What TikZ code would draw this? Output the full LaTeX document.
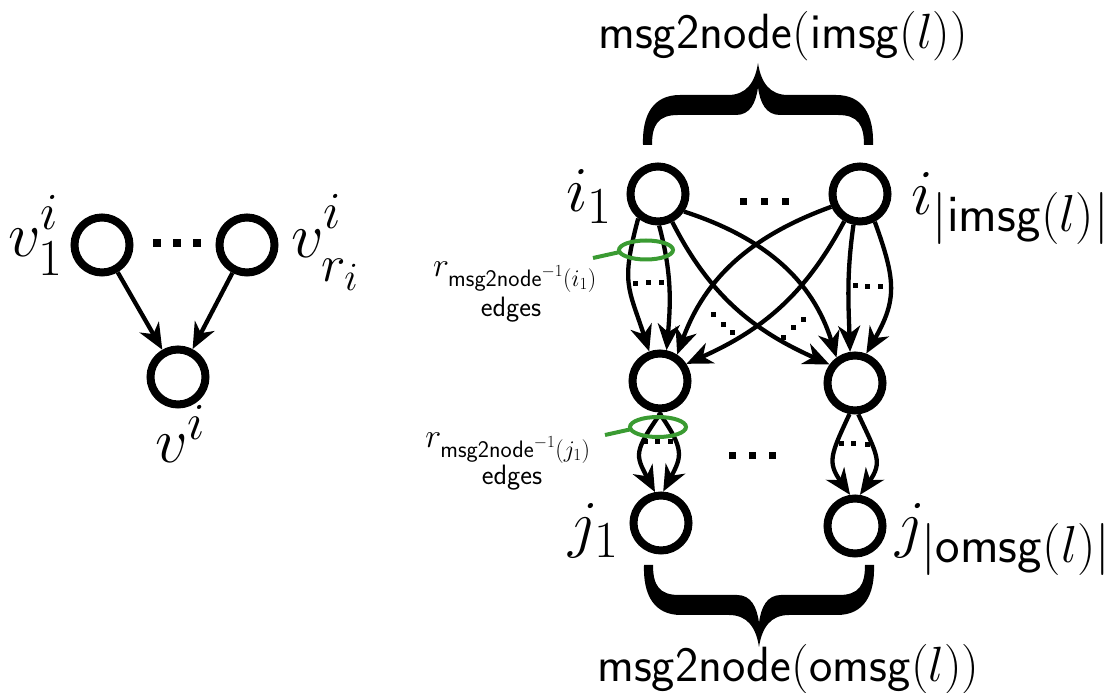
\RequirePackage{fix-cm}
\documentclass[tikz,border=0pt]{standalone}
\usetikzlibrary{arrows.meta}
\DeclareMathSizes{64}{64}{52}{40}
\definecolor{loopgreen}{RGB}{58,155,50}
\tikzset{
  vtx/.style={circle, draw, line width=8pt, minimum size=55pt, inner sep=0pt},
  arr/.style={draw, line width=4.3pt, -{Stealth[length=26pt,width=22pt,inset=8pt]}},
  biglab/.style={inner sep=0pt, font=\fontsize{64}{70}\selectfont},
  toplab/.style={inner sep=0pt, font=\fontsize{49.5}{54}\selectfont},
  rlab/.style={inner sep=0pt, font=\fontsize{34}{40}\selectfont},
  edgelab/.style={inner sep=0pt, font=\fontsize{28}{32}\selectfont\sffamily},
  greenloop/.style={draw=loopgreen, line width=4pt},
}
\newcommand\sqdot[3]{\fill (#1-#3/2,#2-#3/2) rectangle ++(#3,#3);}
\begin{document}
\begin{tikzpicture}[x=1pt,y=1pt]
\useasboundingbox (0,0) rectangle (1114,693);

% left graph
\node[vtx] (v1) at (102,448) {};
\node[vtx] (vr) at (247,448) {};
\node[vtx] (vv) at (178,316) {};
\node[biglab, anchor=base west] (lv1) at (8,436) {$v^{\raisebox{4pt}{$\scriptstyle i$}}_{\raisebox{-3pt}{$\scriptstyle 1$}}$};
\node[biglab, anchor=base west] (lvr) at (291,435) {$v^{\raisebox{6pt}{$\scriptstyle i$}}_{\raisebox{-8pt}{$\scriptstyle r_i$}}$};
\node[biglab, anchor=base west] (lvv) at (155,230) {$v^i$};
\draw[arr] (v1) -- (vv);
\draw[arr] (vr) -- (vv);
\sqdot{157}{450}{8}\sqdot{177}{450}{8}\sqdot{197}{450}{8}

% right graph
\node[vtx] (i1) at (658,499) {};
\node[vtx] (ik) at (860,499) {};
\node[vtx] (m1) at (660,312) {};
\node[vtx] (m2) at (855,310) {};
\node[vtx] (j1) at (661,170) {};
\node[vtx] (jk) at (855,167) {};

\node[biglab, anchor=base west] (li1) at (566,481) {$i_1$};
\node[biglab, anchor=base west] (lik) at (911,478) {$i_{|\mathsf{imsg}(l)|}$};
\node[biglab, anchor=base east] (lj1) at (619,147) {$j_1$};
\node[biglab, anchor=base west] (ljk) at (895,147) {$j_{|\mathsf{omsg}(l)|}$};

\draw[arr] (i1.231) to[out=-105,in=108,looseness=1.3] (m1.110);
\draw[arr] (i1.272) to[out=-75,in=85] (m1.78);
\draw[arr] (ik.258) to[out=-98,in=92] (m2.99);
\draw[arr] (ik.298) to[out=-70,in=60,looseness=1.2] (m2.69);
\draw[arr] (i1.-34) to[out=-18,in=107] (m2.126);
\draw[arr] (i1.-63) to[out=-63,in=156] (m2.144);
\draw[arr] (ik.204) to[out=200,in=70] (m1.57);
\draw[arr] (ik.240) to[out=242,in=24] (m1.33);
\draw[arr] (m1.-88) .. controls +(-125:48) and +(118:42) .. (j1.101);
\draw[arr] (m1.-92) .. controls +(-55:45) and +(62:40) .. (j1.86);
\draw[arr] (m2.-100) .. controls +(-115:45) and +(125:40) .. (jk.99);
\draw[arr] (m2.-84) .. controls +(-65:45) and +(55:40) .. (jk.81);

% small dots inside edge bundles
\sqdot{635}{409}{5}\sqdot{648}{410}{5}\sqdot{661}{410}{5}
\sqdot{855}{407}{5}\sqdot{867}{406}{5}\sqdot{880}{406}{5}
\sqdot{713}{378}{5}\sqdot{723}{368}{5}\sqdot{732}{360}{5}
\sqdot{783}{355}{5}\sqdot{793}{365}{5}\sqdot{803}{373}{5}
\sqdot{645}{251}{5}\sqdot{657}{251}{5}\sqdot{670}{251}{5}
\sqdot{841}{249}{5}\sqdot{853}{249}{5}\sqdot{867}{248}{5}

% big dots
\sqdot{743}{491}{7}\sqdot{764}{491}{7}\sqdot{785}{491}{7}
\sqdot{732}{237}{7}\sqdot{752}{237}{7}\sqdot{772}{237}{7}

% green loops
\draw[greenloop] (646,443) ellipse [x radius=27, y radius=9.5];
\coordinate (t1a) at (593,435);
\coordinate (t1b) at (620,441);
\draw[greenloop] (t1a) -- (t1b);
\draw[greenloop] (658,266) ellipse [x radius=28, y radius=10];
\coordinate (t2a) at (605,258);
\coordinate (t2b) at (632,264);
\draw[greenloop] (t2a) -- (t2b);

% edge labels
\node[rlab, anchor=base] (r1) at (515,416) {$r_{\mathsf{msg2node}^{-1}(i_1)}$};
\node[edgelab, anchor=base] (e1) at (511,376) {edges};
\node[rlab, anchor=base] (r2) at (508,245) {$r_{\mathsf{msg2node}^{-1}(j_1)}$};
\node[edgelab, anchor=base] (e2) at (512,208) {edges};

% braces
\begin{scope}[shift={(758,548)}]
\fill (-115,0) .. controls (-116,30) and (-105,50) .. (-78,50) -- (-30,50) .. controls (-12,50) and (-3,62) .. (0,82) .. controls (3,62) and (12,50) .. (30,50) -- (78,50) .. controls (105,50) and (116,30) .. (115,0) -- (106,0) .. controls (106,20) and (100,30) .. (80,30) -- (22,30) .. controls (8,30) and (2,42) .. (0,58) .. controls (-2,42) and (-8,30) .. (-22,30) -- (-80,30) .. controls (-100,30) and (-106,20) .. (-106,0) -- cycle;
\end{scope}
\begin{scope}[shift={(759,128)}, yscale=-1]
\fill (-115,0) .. controls (-116,30) and (-105,50) .. (-78,50) -- (-30,50) .. controls (-12,50) and (-3,62) .. (0,82) .. controls (3,62) and (12,50) .. (30,50) -- (78,50) .. controls (105,50) and (116,30) .. (115,0) -- (106,0) .. controls (106,20) and (100,30) .. (80,30) -- (22,30) .. controls (8,30) and (2,42) .. (0,58) .. controls (-2,42) and (-8,30) .. (-22,30) -- (-80,30) .. controls (-100,30) and (-106,20) .. (-106,0) -- cycle;
\end{scope}

\node[toplab, anchor=base west] (tl) at (598,644) {$\mathsf{msg2node}(\mathsf{imsg}(l))$};
\node[toplab, anchor=base west] (bl) at (597,11) {$\mathsf{msg2node}(\mathsf{omsg}(l))$};
\end{tikzpicture}
\end{document}
